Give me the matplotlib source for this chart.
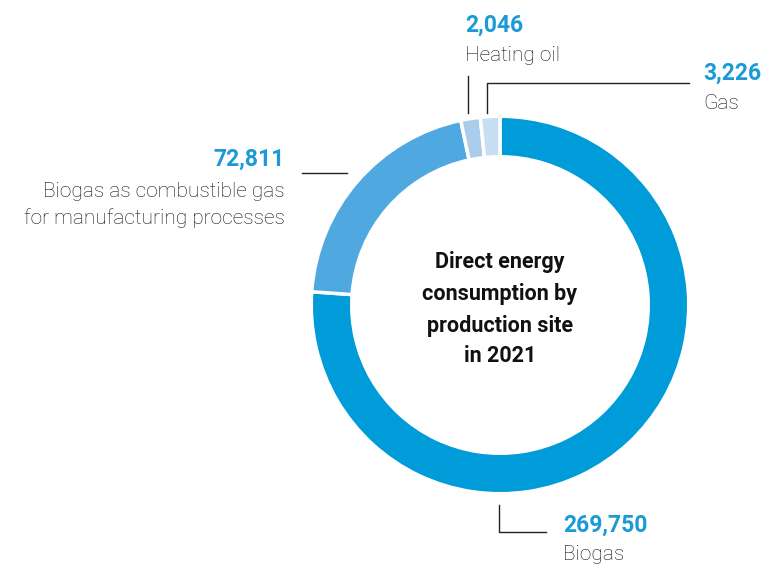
import matplotlib.pyplot as plt

# values (from the picture)
labels = ["Biogas", "Biogas as combustible gas\nfor manufacturing processes", "Heating oil", "Gas"]
values = [269750, 72811, 2046, 3226]
value_text = ["269,750", "72,811", "2,046", "3,226"]
colors = ["#009bd9", "#4fa8e0", "#a9cdeb", "#c8dff3"]
title_lines = ["Direct energy", "consumption by", "production site", "in 2021"]

W, H = 766, 566
fig = plt.figure(figsize=(W / 100, H / 100), dpi=100)
ax = fig.add_axes([0, 0, 1, 1])

# tiny slices are drawn with a minimum share so they stay visible (as in the original)
total = float(sum(values))
shares = [max(v / total, 0.017) for v in values]

cx, cy, r = 500, H - 305, 187
edge = 2.5
edge_px = edge * 100 / 72
ax.pie(shares, colors=colors, startangle=90, counterclock=False, normalize=True,
       center=(cx, cy), radius=r + edge_px / 2, frame=True,
       wedgeprops=dict(width=37 + edge_px, edgecolor="white", linewidth=edge))
ax.set_xlim(0, W)
ax.set_ylim(0, H)
ax.set_aspect("equal")
ax.axis("off")

def Y(y):
    return H - y

fam = ["Roboto", "DejaVu Sans"]
blue = "#1a9ad6"
grey = "#111111"
fs_num = 16.5
fs_lab = 15

# centre title
for line, yb in zip(title_lines, [268, 300, 332, 362]):
    ax.text(cx, Y(yb), line, ha="center", va="baseline",
            fontsize=15.5, fontweight="bold", family=fam, color="#111111")

lc = "#222222"
lw = 1.0
# heating oil
ax.plot([468, 468], [Y(76), Y(113)], color=lc, lw=lw)
ax.text(465, Y(32), value_text[2], ha="left", va="baseline", fontsize=fs_num, fontweight="bold", color=blue, family=fam)
ax.text(465, Y(61), labels[2], ha="left", va="baseline", fontsize=fs_lab, fontweight="light", color=grey, family=fam)
# gas
ax.plot([487, 487, 689], [Y(113), Y(83), Y(83)], color=lc, lw=lw)
ax.text(703, Y(80), value_text[3], ha="left", va="baseline", fontsize=fs_num, fontweight="bold", color=blue, family=fam)
ax.text(703, Y(109), labels[3], ha="left", va="baseline", fontsize=fs_lab, fontweight="light", color=grey, family=fam)
# combustible
ax.plot([302, 347], [Y(173), Y(173)], color=lc, lw=lw)
ax.text(285, Y(166), value_text[1], ha="right", va="baseline", fontsize=fs_num, fontweight="bold", color=blue, family=fam)
l1, l2 = labels[1].split("\n")
ax.text(285, Y(197), l1, ha="right", va="baseline", fontsize=fs_lab, fontweight="light", color=grey, family=fam)
ax.text(285, Y(224), l2, ha="right", va="baseline", fontsize=fs_lab, fontweight="light", color=grey, family=fam)
# biogas
ax.plot([499, 499, 546], [Y(505), Y(532), Y(532)], color=lc, lw=lw)
ax.text(563, Y(532), value_text[0], ha="left", va="baseline", fontsize=fs_num, fontweight="bold", color=blue, family=fam)
ax.text(563, Y(560), labels[0], ha="left", va="baseline", fontsize=fs_lab, fontweight="light", color=grey, family=fam)

fig.savefig("out.png", dpi=100, facecolor="white")
